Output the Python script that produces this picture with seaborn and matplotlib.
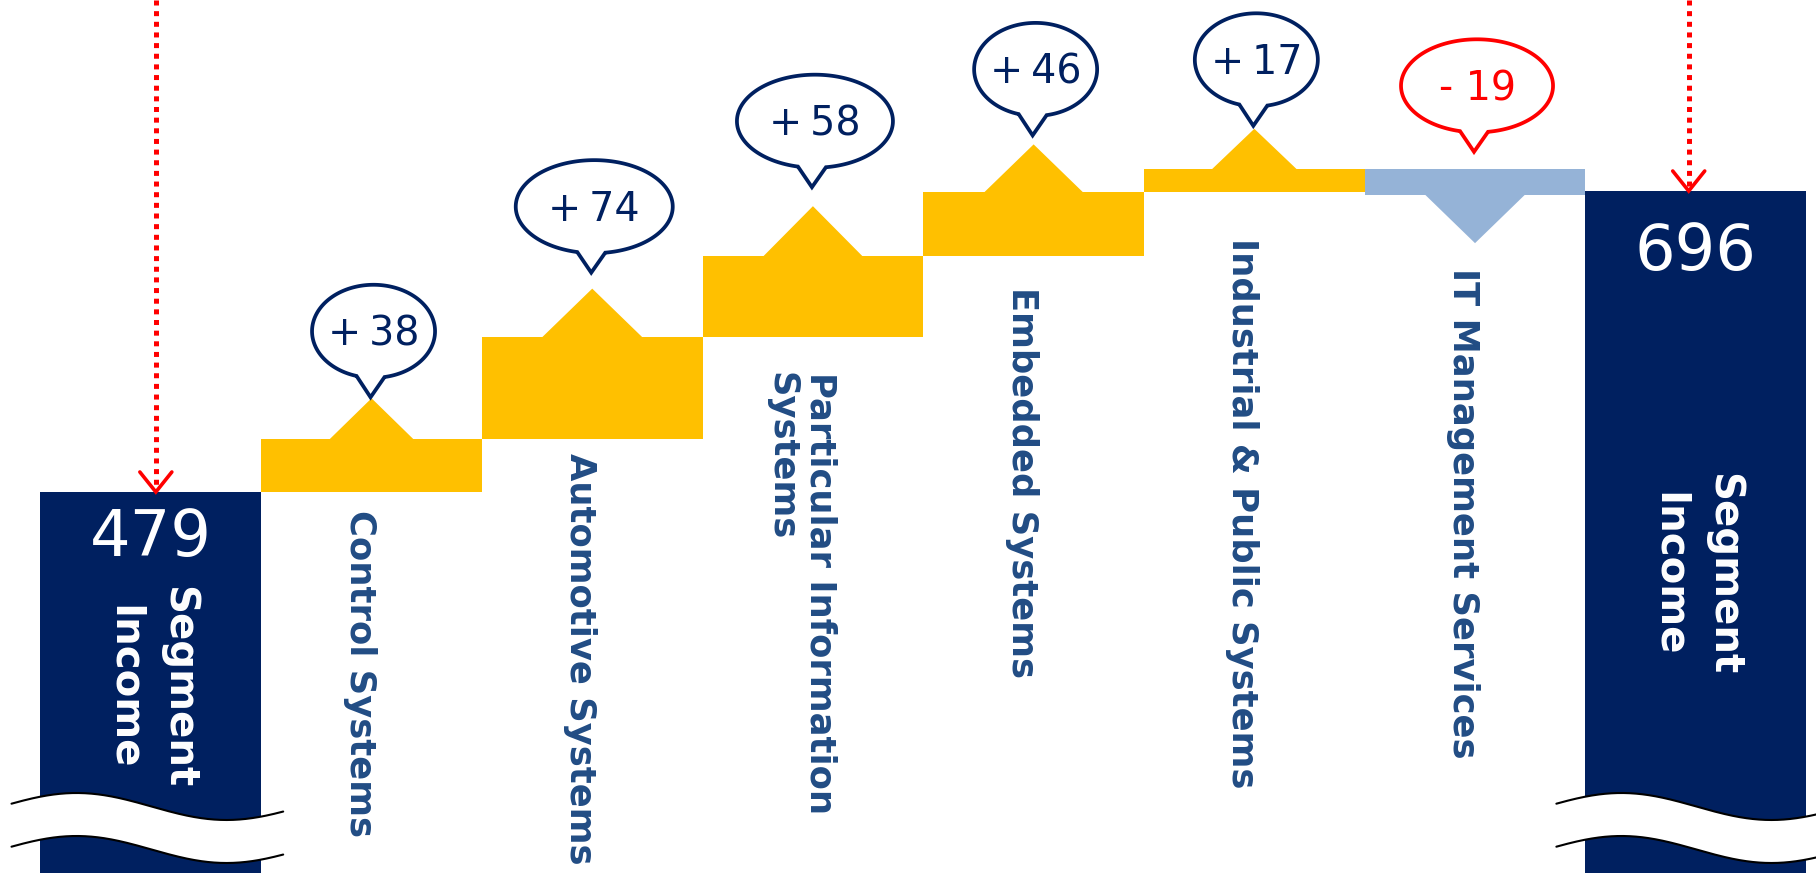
import numpy as np
import pandas as pd
import matplotlib
matplotlib.use("Agg")
import matplotlib.pyplot as plt
import seaborn as sns
from matplotlib.patches import Polygon
from matplotlib.lines import Line2D
from matplotlib.transforms import Affine2D

# ---------------- data ----------------
labels = ["Segment\nIncome", "Control Systems", "Automotive Systems",
          "Particular Information\nSystems", "Embedded Systems",
          "Industrial & Public Systems", "IT Management Services", "Segment\nIncome"]
start_total = 479
end_total = 696
changes = [38, 74, 58, 46, 17, -19]

# ---------------- style (pixel sizes) ----------------
NAVY = "#002060"
GOLD = "#FFC000"
LBLUE = "#95B3D7"
RED = "#FF0000"
LABEL_C = "#214C84"
bubble_w = [123, 157, 156, 123, 123, 152]
tri_w = [86, 101, 101, 101, 86, 101]
tri_h = [41, 48, 50, 48, 40, 48]
bubble_gap = [1, 16, 19, 9, 3, 17]
label_gap = [18, 14, 35, 31, 46, 25]

# ---------------- derived bar geometry ----------------
bottoms = [0]
heights = [start_total]
cum = start_total
for c in changes:
    if c >= 0:
        bottoms.append(cum)
        heights.append(c)
    else:
        bottoms.append(cum + c)
        heights.append(-c)
    cum += c
bottoms.append(0)
heights.append(end_total)
colors = [NAVY] + [GOLD if c >= 0 else LBLUE for c in changes] + [NAVY]

df = pd.DataFrame({"step": list(range(len(labels))), "height": heights})

sns.set_theme(style="white")
plt.rcParams["font.family"] = ["DejaVu Sans"]

W, H = 1816, 873
fig = plt.figure(figsize=(W / 100, H / 100), dpi=100)
ax = fig.add_axes([0, 0, 1, 1])
sns.barplot(data=df, x="step", y="height", bottom=bottoms, width=1.0,
            errorbar=None, linewidth=0, color=NAVY, ax=ax)
for p, c in zip(ax.patches, colors):
    p.set_facecolor(c)
    p.set_edgecolor("none")
    p.set_zorder(2)

ax.set_xlim(-0.6835, 7.545)
ax.set_ylim(204.3, 833.7)
ax.axis("off")

img = Affine2D().scale(1, -1).translate(0, H)


def to_img(x, y):
    dx, dy = ax.transData.transform((x, y))
    return dx, H - dy


# ---------------- triangles, bubbles, labels for steps ----------------
for i, c in enumerate(changes):
    k = i + 1
    cx, top = to_img(k, bottoms[k] + heights[k])
    _, bot = to_img(k, bottoms[k])
    tw, th = tri_w[i], tri_h[i]
    if c >= 0:
        tri = [(cx - tw / 2, top + 1), (cx, top - th), (cx + tw / 2, top + 1)]
        tip_y = top - th - bubble_gap[i]
        lab_y = bot + label_gap[i]
        ecol = NAVY
        txt = f"+\u2009{c}"
    else:
        tri = [(cx - tw / 2, bot - 1), (cx, bot + th), (cx + tw / 2, bot - 1)]
        tip_y = top - bubble_gap[i]
        lab_y = bot + th + label_gap[i]
        ecol = RED
        txt = f"- {abs(c)}"
    ax.add_patch(Polygon(tri, closed=True, facecolor=colors[k], edgecolor="none",
                         transform=img, zorder=2))

    # speech bubble
    tipx = cx - 1
    ecx = cx + 2
    ecy = tip_y - 66
    a, b = bubble_w[i] / 2, 46.5
    hw = 14
    t_r = np.arccos(np.clip((tipx + hw - ecx) / a, -1, 1))
    t_l = np.arccos(np.clip((tipx - hw - ecx) / a, -1, 1))
    ts = np.linspace(t_l, t_r + 2 * np.pi, 300)
    pts = np.column_stack([ecx + a * np.cos(ts), ecy + b * np.sin(ts)])
    pts = np.vstack([pts, [tipx, tip_y]])
    ax.add_patch(Polygon(pts, closed=True, facecolor="white", edgecolor=ecol,
                         linewidth=2.7, joinstyle="miter", transform=img, zorder=4))
    fs = 28.5
    ax.text(ecx, ecy + 0.729 * fs * 100 / 72 / 2, txt, color=ecol, fontsize=fs,
            ha="center", va="baseline", transform=img, zorder=5)

    # category label
    ax.text(cx - 12, lab_y, labels[k], rotation=270, color=LABEL_C, fontsize=25.5,
            fontweight="bold", ha="center", va="top", multialignment="left",
            transform=img, zorder=5)

# ---------------- totals ----------------
total_vals = [start_total, end_total]
num_off = [41, 56]
lab_off = [195, 383]
for j, k in enumerate([0, len(labels) - 1]):
    cx, top = to_img(k, heights[k])
    fs = 46
    ax.text(cx, top + num_off[j] + 0.729 * fs * 100 / 72 / 2, str(total_vals[j]),
            color="white", fontsize=fs, ha="center", va="baseline",
            transform=img, zorder=5)
    ax.text(cx, top + lab_off[j], labels[k], rotation=270, color="white",
            fontsize=29, fontweight="bold", ha="center", va="center",
            multialignment="center", linespacing=1.45, transform=img, zorder=5)

    # dotted red arrow
    ax_x = cx + (5 if j == 0 else -7)
    tip = top
    ax.add_line(Line2D([ax_x, ax_x], [0, tip - 3], color=RED, linewidth=3.6,
                       linestyle=(0, (1.0, 1.13)), dash_capstyle="butt",
                       transform=img, zorder=6))
    ax.add_line(Line2D([ax_x - 16, ax_x, ax_x + 16], [tip - 20, tip, tip - 20],
                       color=RED, linewidth=2.6, solid_capstyle="round",
                       solid_joinstyle="miter", transform=img, zorder=6))

    # wave break
    bx0, _ = to_img(k - 0.5, 0)
    bx1, _ = to_img(k + 0.5, 0)
    x0 = bx0 - 29
    x1 = bx1 + 22 if j == 0 else W + 5
    xs = np.linspace(x0, x1, 300)
    y1 = 806.5 - 13.5 * np.cos(2 * np.pi * (xs - x0 - 65) / 300)
    y2 = y1 + 43
    band = np.vstack([np.column_stack([xs, y1]), np.column_stack([xs[::-1], y2[::-1]])])
    ax.add_patch(Polygon(band, closed=True, facecolor="white", edgecolor="none",
                         transform=img, zorder=3))
    ax.add_line(Line2D(xs, y1, color="black", linewidth=1.5, transform=img, zorder=3.5))
    ax.add_line(Line2D(xs, y2, color="black", linewidth=1.5, transform=img, zorder=3.5))

fig.savefig("out.png", dpi=100)
